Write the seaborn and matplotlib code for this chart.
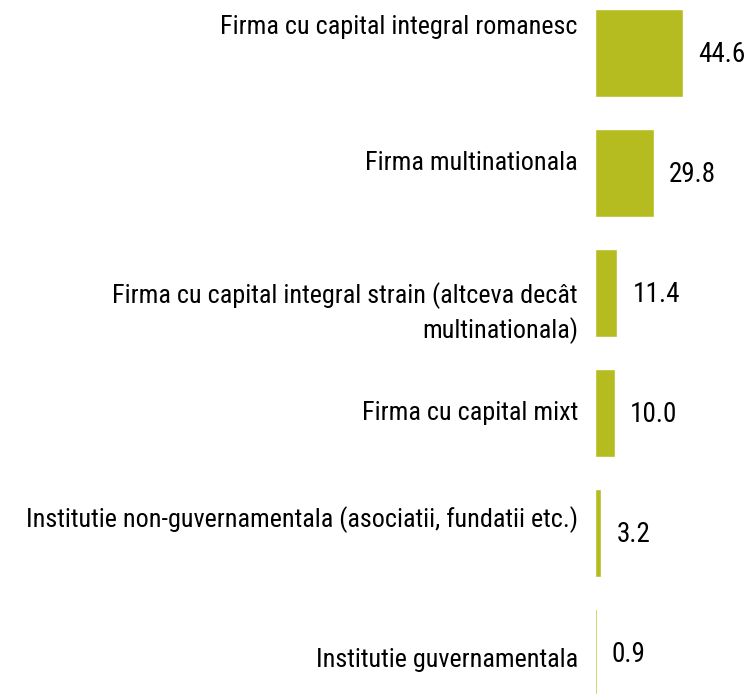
import matplotlib
matplotlib.use("Agg")
import matplotlib.pyplot as plt
from matplotlib import font_manager
import seaborn as sns
import pandas as pd

categories = [
    "Firma cu capital integral romanesc",
    "Firma multinationala",
    "Firma cu capital integral strain (altceva decât\nmultinationala)",
    "Firma cu capital mixt",
    "Institutie non-guvernamentala (asociatii, fundatii etc.)",
    "Institutie guvernamentala",
]
values = [44.6, 29.8, 11.4, 10.0, 3.2, 0.9]
value_labels = ["44.6", "29.8", "11.4", "10.0", "3.2", "0.9"]

# vertical label offsets (in bar-pitch units) relative to bar centre
label_offsets = [-0.215, -0.085, 0.17, 0.0, -0.11, 0.06]

sns.set_style("white")
available = {f.name for f in font_manager.fontManager.ttflist}
narrow = [n for n in ["Liberation Sans Narrow", "Arial Narrow", "Roboto Condensed",
                      "Open Sans Condensed"] if n in available]
if narrow:
    plt.rcParams["font.family"] = [narrow[0], "DejaVu Sans"]
    fs = 18.8
    vfs = 19.5
else:
    plt.rcParams["font.family"] = ["Liberation Sans", "DejaVu Sans"]
    fs = 16.5
    vfs = 17.0

W, H = 751, 694
fig = plt.figure(figsize=(W / 100, H / 100), dpi=100)
ax = fig.add_axes([595 / W, 0, (W - 595) / W, 1])

df = pd.DataFrame({"cat": categories, "val": values})
sns.barplot(data=df, y="cat", x="val", orient="h", color="#B5BC20",
            saturation=1, width=0.733, ax=ax)

pxu = 1.97  # pixels per unit
ax.set_xlim(0, (W - 595) / pxu)
ax.set_ylim((H - 53) / 120, -53 / 120)

for i, (v, lab) in enumerate(zip(values, value_labels)):
    ax.text(v + 15 / pxu, i + 0.01, lab, ha="left", va="center", fontsize=vfs,
            color="black")
    ax.text(-17 / pxu, i + label_offsets[i], categories[i], ha="right", va="center",
            fontsize=fs, color="black", clip_on=False, linespacing=1.38)

ax.set_yticks([])
ax.set_xticks([])
ax.set_xlabel("")
ax.set_ylabel("")
for s in ax.spines.values():
    s.set_visible(False)
ax.patch.set_alpha(0)

fig.savefig("out.png", dpi=100)
